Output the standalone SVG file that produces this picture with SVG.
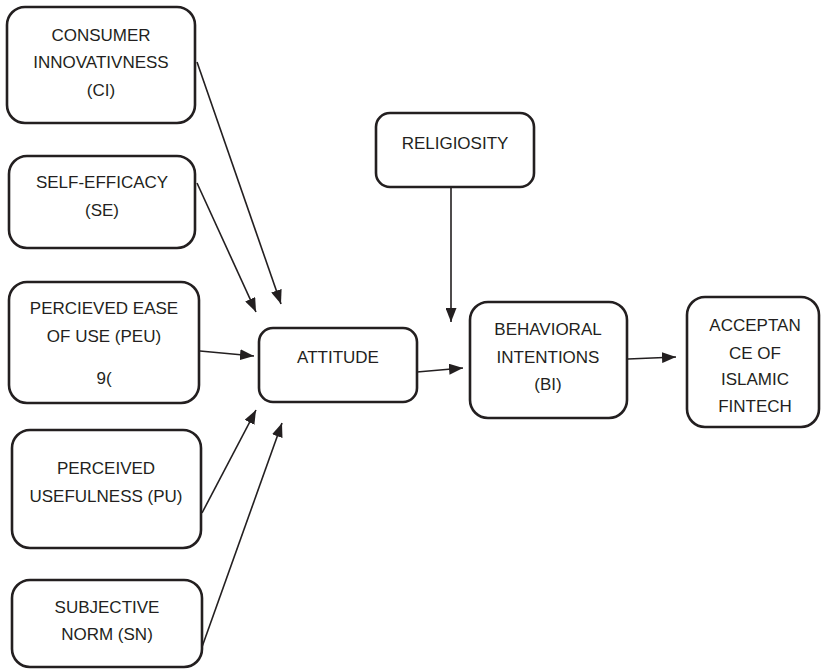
<svg xmlns="http://www.w3.org/2000/svg" width="821" height="671" viewBox="0 0 821 671">
<style>
.box{fill:#fff;stroke:#231f20;stroke-width:2.6}
.t{font-family:"Liberation Sans",Arial,sans-serif;font-size:17px;fill:#231f20;text-anchor:middle}
.c{stroke:#231f20;stroke-width:1.6;fill:none;marker-end:url(#ah)}
</style>
<defs>
<marker id="ah" markerUnits="userSpaceOnUse" markerWidth="15" markerHeight="11" refX="14" refY="5.5" orient="auto">
<path d="M0,0 L14,5.5 L0,11 Z" fill="#231f20"/>
</marker>
</defs>
<rect width="821" height="671" fill="#fff"/>
<g id="ci"><rect class="box" x="7" y="7" width="188" height="116" rx="18"/>
<text class="t" x="101" y="41">CONSUMER</text><text class="t" x="101" y="68">INNOVATIVNESS</text><text class="t" x="101" y="96">(CI)</text></g>
<g id="se"><rect class="box" x="9" y="156" width="186" height="92" rx="18"/>
<text class="t" x="102" y="188">SELF-EFFICACY</text><text class="t" x="102" y="216">(SE)</text></g>
<g id="peu"><rect class="box" x="9" y="282" width="190" height="121" rx="18"/>
<text class="t" x="104" y="314">PERCIEVED EASE</text><text class="t" x="104" y="342">OF USE (PEU)</text><text class="t" x="104" y="384">9(</text></g>
<g id="pu"><rect class="box" x="12" y="430" width="189" height="118" rx="18"/>
<text class="t" x="106" y="474">PERCEIVED</text><text class="t" x="106" y="502">USEFULNESS (PU)</text></g>
<g id="sn"><rect class="box" x="12" y="580" width="190" height="87" rx="18"/>
<text class="t" x="107" y="613">SUBJECTIVE</text><text class="t" x="107" y="640">NORM (SN)</text></g>
<g id="att"><rect class="box" x="259" y="328" width="158" height="74" rx="14"/>
<text class="t" x="338" y="363">ATTITUDE</text></g>
<g id="rel"><rect class="box" x="376" y="113" width="158" height="74" rx="14"/>
<text class="t" x="455" y="149">RELIGIOSITY</text></g>
<g id="bi"><rect class="box" x="470" y="302" width="157" height="116" rx="18"/>
<text class="t" x="548" y="335">BEHAVIORAL</text><text class="t" x="548" y="363">INTENTIONS</text><text class="t" x="548" y="390">(BI)</text></g>
<g id="acc"><rect class="box" x="687" y="297" width="132" height="130" rx="18"/>
<text class="t" x="755" y="331">ACCEPTAN</text><text class="t" x="755" y="359">CE OF</text><text class="t" x="755" y="385">ISLAMIC</text><text class="t" x="755" y="412">FINTECH</text></g>
<g id="connectors">
<line class="c" x1="197" y1="62" x2="281" y2="304"/>
<line class="c" x1="197" y1="183" x2="256" y2="312"/>
<line class="c" x1="200" y1="351" x2="254" y2="356"/>
<line class="c" x1="202" y1="513" x2="256" y2="410"/>
<line class="c" x1="202" y1="647" x2="282" y2="423"/>
<line class="c" x1="417" y1="372" x2="463" y2="368"/>
<line class="c" x1="451" y1="187" x2="451" y2="322"/>
<line class="c" x1="628" y1="359" x2="676" y2="357"/>
</g>
</svg>
